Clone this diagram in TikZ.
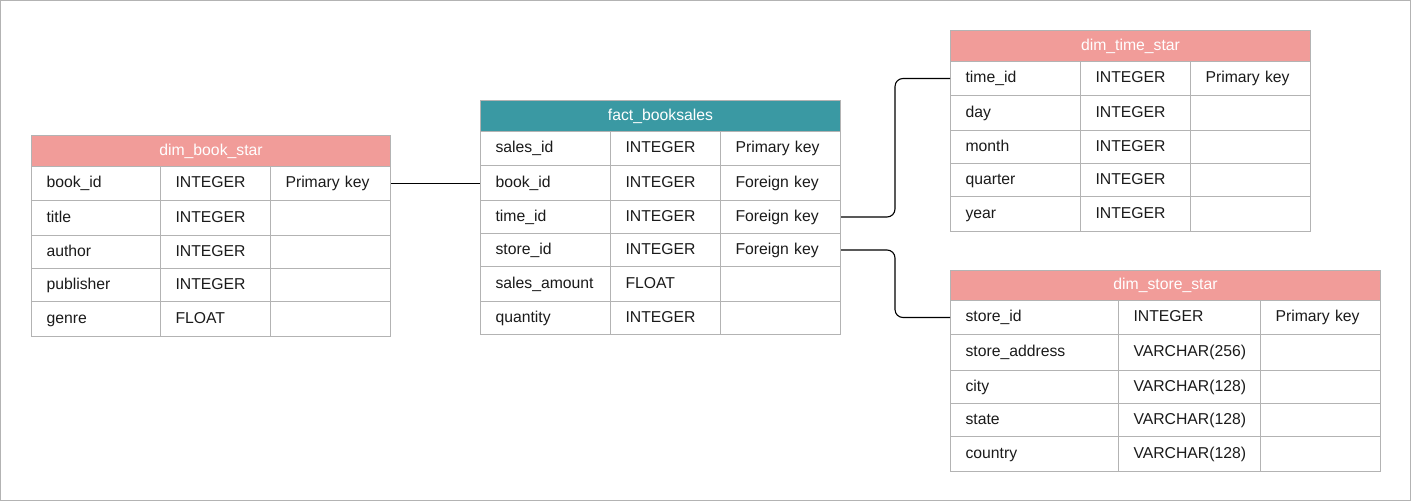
\documentclass[tikz,border=0pt]{standalone}
\usepackage{fontspec}
\setmainfont{Liberation Sans}
\definecolor{hdrpink}{HTML}{F19C99}
\definecolor{hdrteal}{HTML}{3A99A3}
\definecolor{gridgrey}{HTML}{B3B3B3}
\definecolor{txt}{HTML}{1A1A1A}
\tikzset{
  cell/.style={draw=gridgrey, line width=1pt, anchor=north west, inner xsep=15pt, inner ysep=0pt,
    align=left, font=\fontsize{15.75}{18}\selectfont, text=txt, text height=11.5pt, text depth=3.5pt},
  hdr/.style={draw=gridgrey, line width=1pt, anchor=north west, inner sep=0pt,
    font=\fontsize{15.75}{18}\selectfont, text=white, text height=11.5pt, text depth=3.5pt},
  conn/.style={draw=black, line width=1.1pt, rounded corners=8pt},
}
\begin{document}
\begin{tikzpicture}[x=1pt,y=-1pt]
\useasboundingbox (0,0) rectangle (1411,501);
\draw[gridgrey, line width=1pt] (0.5,0.5) rectangle (1410.5,500.5);

% ---- dim_book_star
\node[hdr, fill=hdrpink, minimum width=359pt, minimum height=31pt] (bookhdr) at (31,135) {dim\_book\_star};
\foreach \yt/\yb/\a/\b/\c [count=\i] in {
  166/200/book\_id/INTEGER/Primary key,
  200/235/title/INTEGER/,
  235/268/author/INTEGER/,
  268/301/publisher/INTEGER/,
  301/336/genre/FLOAT/}{
  \node[cell, minimum width=129pt, text width=99pt, minimum height=\yb-\yt] (book-\i-a) at (31,\yt) {\a};
  \node[cell, minimum width=110pt, text width=80pt, minimum height=\yb-\yt] (book-\i-b) at (160,\yt) {\b};
  \node[cell, minimum width=120pt, text width=90pt, minimum height=\yb-\yt] (book-\i-c) at (270,\yt) {\c};
}

% ---- fact_booksales
\node[hdr, fill=hdrteal, minimum width=360pt, minimum height=31pt] (facthdr) at (480,100) {fact\_booksales};
\foreach \yt/\yb/\a/\b/\c [count=\i] in {
  131/165/sales\_id/INTEGER/Primary key,
  165/200/book\_id/INTEGER/Foreign key,
  200/233/time\_id/INTEGER/Foreign key,
  233/266/store\_id/INTEGER/Foreign key,
  266/301/sales\_amount/FLOAT/,
  301/334/quantity/INTEGER/}{
  \node[cell, minimum width=130pt, text width=100pt, minimum height=\yb-\yt] (fact-\i-a) at (480,\yt) {\a};
  \node[cell, minimum width=110pt, text width=80pt, minimum height=\yb-\yt] (fact-\i-b) at (610,\yt) {\b};
  \node[cell, minimum width=120pt, text width=90pt, minimum height=\yb-\yt] (fact-\i-c) at (720,\yt) {\c};
}

% ---- dim_time_star
\node[hdr, fill=hdrpink, minimum width=360pt, minimum height=31pt] (timehdr) at (950,30) {dim\_time\_star};
\foreach \yt/\yb/\a/\b/\c [count=\i] in {
  61/95/time\_id/INTEGER/Primary key,
  95/130/day/INTEGER/,
  130/163/month/INTEGER/,
  163/196/quarter/INTEGER/,
  196/231/year/INTEGER/}{
  \node[cell, minimum width=130pt, text width=100pt, minimum height=\yb-\yt] (time-\i-a) at (950,\yt) {\a};
  \node[cell, minimum width=110pt, text width=80pt, minimum height=\yb-\yt] (time-\i-b) at (1080,\yt) {\b};
  \node[cell, minimum width=120pt, text width=90pt, minimum height=\yb-\yt] (time-\i-c) at (1190,\yt) {\c};
}

% ---- dim_store_star
\node[hdr, fill=hdrpink, minimum width=430pt, minimum height=30pt] (storehdr) at (950,270) {dim\_store\_star};
\foreach \yt/\yb/\a/\b/\c [count=\i] in {
  300/334/store\_id/INTEGER/Primary key,
  334/370/store\_address/VARCHAR(256)/,
  370/403/city/VARCHAR(128)/,
  403/436/state/VARCHAR(128)/,
  436/471/country/VARCHAR(128)/}{
  \node[cell, minimum width=168pt, text width=138pt, minimum height=\yb-\yt] (store-\i-a) at (950,\yt) {\a};
  \node[cell, minimum width=142pt, text width=112pt, minimum height=\yb-\yt] (store-\i-b) at (1118,\yt) {\b};
  \node[cell, minimum width=120pt, text width=90pt, minimum height=\yb-\yt] (store-\i-c) at (1260,\yt) {\c};
}

% ---- connectors
\coordinate (bendx) at (895,0);
\draw[conn] (book-1-c.east) -- (book-1-c.east -| fact-2-a.west);
\draw[conn] (fact-3-c.east) -- (bendx |- fact-3-c.east) -- (bendx |- time-1-a.west) -- (time-1-a.west);
\draw[conn] (fact-4-c.east) -- (bendx |- fact-4-c.east) -- (bendx |- store-1-a.west) -- (store-1-a.west);
\end{tikzpicture}
\end{document}
